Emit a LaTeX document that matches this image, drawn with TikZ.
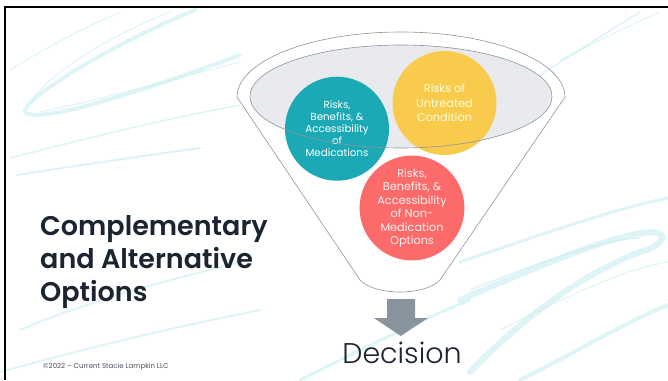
\documentclass[tikz,border=0pt]{standalone}
\usepackage{fontspec}
\setmainfont{Poppins}
\newfontfamily\lightfont{Poppins}[UprightFont=* Light]
\newfontfamily\semifont{Poppins}[UprightFont=* SemiBold]
\usepackage{tikz}
\usetikzlibrary{positioning,calc}
\tikzset{>=stealth}
\definecolor{tealc}{HTML}{1BA9B5}
\definecolor{yellowc}{HTML}{F9CB4C}
\definecolor{coralc}{HTML}{FC6A69}
\definecolor{funnelc}{HTML}{8C95A0}
\definecolor{mouthc}{HTML}{E4E7EB}
\definecolor{arrowc}{HTML}{8A949F}
\definecolor{inkc}{HTML}{1B2430}
\definecolor{swirlc}{HTML}{C9EEF0}
\tikzset{
  bubble/.style={circle,minimum size=104pt,inner sep=0pt,align=center},
  swirl/.style={swirlc,line cap=round,opacity=0.6},
}
\begin{document}
\begin{tikzpicture}[x=1pt,y=-1pt]
\useasboundingbox (0,0) rectangle (668,380);
\fill[white] (0,0) rectangle (668,380);
% marbled streaks
\draw[swirl,line width=4pt] (195,10) .. controls (110,45) and (30,95) .. (25,110) .. controls (22,118) and (50,116) .. (90,105) .. controls (150,88) and (200,70) .. (240,55);
\draw[swirl,line width=1pt] (170,12) .. controls (100,40) and (40,80) .. (30,105);
\draw[swirl,line width=1pt] (40,112) .. controls (100,100) and (170,80) .. (240,62);
\draw[swirl,line width=1.5pt] (10,158) .. controls (80,140) and (160,120) .. (240,105);
\draw[swirl,line width=2pt] (17,175) .. controls (80,165) and (150,155) .. (200,148);
\draw[swirl,line width=1pt] (10,70) .. controls (50,45) and (90,25) .. (120,12);
\draw[swirl,line width=6pt] (460,300) .. controls (530,270) and (610,235) .. (650,232) .. controls (670,232) and (665,245) .. (640,252) .. controls (580,275) and (520,320) .. (470,372);
\draw[swirl,line width=1.5pt] (470,290) .. controls (540,262) and (600,240) .. (640,238);
\draw[swirl,line width=3pt] (460,262) .. controls (540,235) and (610,210) .. (668,198);
\draw[swirl,line width=4pt] (520,380) .. controls (580,350) and (630,320) .. (668,305);
\draw[swirl,line width=1pt] (500,330) .. controls (560,300) and (620,270) .. (668,262);
\draw[swirl,line width=1.5pt] (540,75) .. controls (580,50) and (610,30) .. (640,12);
\draw[swirl,line width=1pt] (560,60) .. controls (600,40) and (630,25) .. (660,12);
\draw[swirl,line width=3pt] (300,380) .. controls (360,350) and (420,320) .. (470,300);
\draw[swirl,line width=2pt] (20,330) .. controls (90,300) and (170,280) .. (240,262);
\draw[swirl,line width=2pt] (0,372) .. controls (80,350) and (160,330) .. (260,310);
% slide frame
\draw[black,line width=2pt] (5,380) -- (5,7) -- (668,7);
% funnel
\draw[funnelc,line width=0.6pt] (237,97) -- (360,280) .. controls (375,296) and (425,296) .. (440,280)
  -- (565,97) arc[start angle=0,end angle=180,x radius=164pt,y radius=65pt];
\coordinate (mouth) at (401,96.5);
\fill[mouthc,fill opacity=0.85] (mouth) ellipse[x radius=151pt,y radius=51.5pt];
\node[bubble,fill=tealc,text=white,font=\fontsize{10.3}{12.2}\selectfont] (meds) at (337,128.7)
  {Risks,\\Benefits, \&\\Accessibility\\of\\Medications};
\node[bubble,fill=yellowc,text=yellow!15,font=\fontsize{11.3}{14.3}\selectfont] (untreated) at (444.5,103)
  {Risks of\\Untreated\\Condition};
\node[bubble,fill=coralc,text=red!5,font=\fontsize{11.3}{13.5}\selectfont] (nonmeds) at (412,208)
  {Risks,\\Benefits, \&\\Accessibility\\of Non-\\Medication\\Options};
\draw[funnelc,line width=0.6pt] (mouth) ellipse[x radius=151pt,y radius=51.5pt];
% decision arrow
\fill[arrowc] (387,299) -- (415,299) -- (415,318) -- (428,318) -- (400.7,336) -- (374,318) -- (387,318) -- cycle;
\node[font=\lightfont\fontsize{28.5}{33}\selectfont,text=inkc,anchor=base,inner sep=0pt] (decision) at (402,363) {Decision};
\node[font=\semifont\fontsize{27}{33}\selectfont,text=inkc,align=left,anchor=north west,inner sep=0pt] (title) at (40,215)
  {Complementary\\and Alternative\\Options};
\node[font=\fontsize{7}{8}\selectfont,text=inkc!80,anchor=west,inner sep=0pt] (copy) at (43,367) {©2022 – Current Stacie Lampkin LLC};
\end{tikzpicture}
\end{document}
